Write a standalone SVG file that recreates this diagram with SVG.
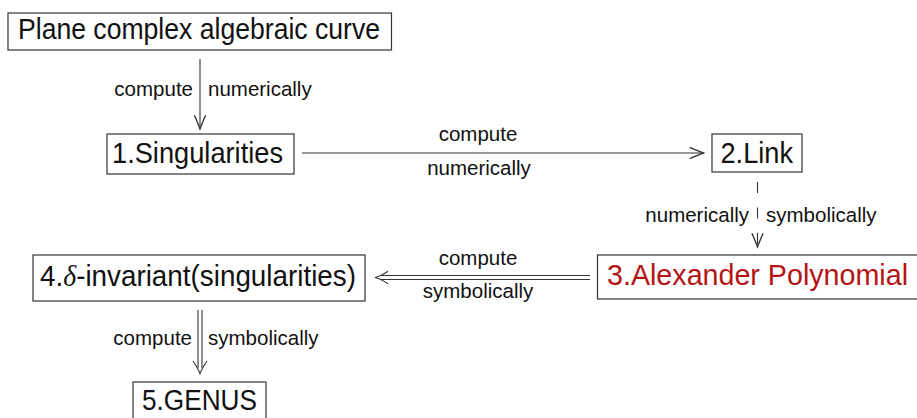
<svg xmlns="http://www.w3.org/2000/svg" width="917" height="418" viewBox="0 0 917 418">
<style>
  .box { fill: #fff; stroke: #333; stroke-width: 1.2; }
  .main { font-family: "Liberation Sans", Arial, sans-serif; font-size: 29px; fill: #111; }
  .red { fill: #b41414; }
  .lbl { font-family: "Liberation Sans", Arial, sans-serif; font-size: 20.5px; fill: #111; }
  .ln { fill: none; stroke: #333; stroke-width: 1.1; }
  .dash { stroke-dasharray: 11 14.5; }
</style>
<defs>
  <marker id="to" markerUnits="userSpaceOnUse" markerWidth="20" markerHeight="20" viewBox="-14 -8 16 16" refX="0" refY="0" orient="auto" overflow="visible">
    <path d="M -11,-4.5 C -6,-2.2 -2,-0.8 0,0 C -2,0.8 -6,2.2 -11,4.5" fill="none" stroke="#333" stroke-width="1.1" stroke-dasharray="none"/>
  </marker>
</defs>

<g id="node1">
  <rect class="box" x="8" y="13" width="383.5" height="37"/>
  <text class="main" x="18" y="39" textLength="362" lengthAdjust="spacingAndGlyphs">Plane complex algebraic curve</text>
</g>
<g id="node2">
  <rect class="box" x="107" y="134" width="187" height="40"/>
  <text class="main" x="112" y="163" textLength="171" lengthAdjust="spacingAndGlyphs">1.Singularities</text>
</g>
<g id="node3">
  <rect class="box" x="712" y="134" width="90" height="38"/>
  <text class="main" x="720.5" y="163" textLength="72.5" lengthAdjust="spacingAndGlyphs">2.Link</text>
</g>
<g id="node4">
  <rect class="box" x="597.5" y="255" width="340" height="44"/>
  <text class="main red" x="607" y="285" textLength="301" lengthAdjust="spacingAndGlyphs">3.Alexander Polynomial</text>
</g>
<g id="node5">
  <rect class="box" x="33" y="255" width="332" height="46"/>
  <text class="main" x="40" y="285.5" textLength="316" lengthAdjust="spacingAndGlyphs">4.<tspan font-family="'Liberation Serif', 'Times New Roman', serif" font-style="italic">δ</tspan>-invariant(singularities)</text>
</g>
<g id="node6">
  <rect class="box" x="133" y="382" width="133" height="42"/>
  <text class="main" x="142" y="410" textLength="115" lengthAdjust="spacingAndGlyphs">5.GENUS</text>
</g>

<g id="connectors">
  <g id="e1">
    <line class="ln" x1="200" y1="59" x2="200" y2="129" marker-end="url(#to)"/>
    <text class="lbl" x="193" y="96" text-anchor="end">compute</text>
    <text class="lbl" x="208" y="96">numerically</text>
  </g>
  <g id="e2">
    <line class="ln" x1="302" y1="153" x2="703.5" y2="153" marker-end="url(#to)"/>
    <text class="lbl" x="478" y="141" text-anchor="middle">compute</text>
    <text class="lbl" x="479" y="175" text-anchor="middle">numerically</text>
  </g>
  <g id="e3">
    <line class="ln dash" x1="757.5" y1="182" x2="757.5" y2="247" marker-end="url(#to)"/>
    <text class="lbl" x="749" y="222" text-anchor="end">numerically</text>
    <text class="lbl" x="766" y="222">symbolically</text>
  </g>
  <g id="e4">
    <line class="ln" x1="590" y1="275.5" x2="380" y2="275.5"/>
    <line class="ln" x1="590" y1="279.5" x2="380" y2="279.5"/>
    <path class="ln" d="M 388,271.2 C 383,274.5 378.5,276.8 375,277.5 C 378.5,278.2 383,280.5 388,283.8"/>
    <text class="lbl" x="478" y="265" text-anchor="middle">compute</text>
    <text class="lbl" x="478" y="298" text-anchor="middle">symbolically</text>
  </g>
  <g id="e5">
    <line class="ln" x1="198" y1="310" x2="198" y2="368"/>
    <line class="ln" x1="202" y1="310" x2="202" y2="368"/>
    <path class="ln" d="M 193,361 C 196.3,366 198.7,370 200,373.5 C 201.3,370 203.7,366 207,361"/>
    <text class="lbl" x="192" y="345" text-anchor="end">compute</text>
    <text class="lbl" x="208" y="345">symbolically</text>
  </g>
</g>
</svg>
